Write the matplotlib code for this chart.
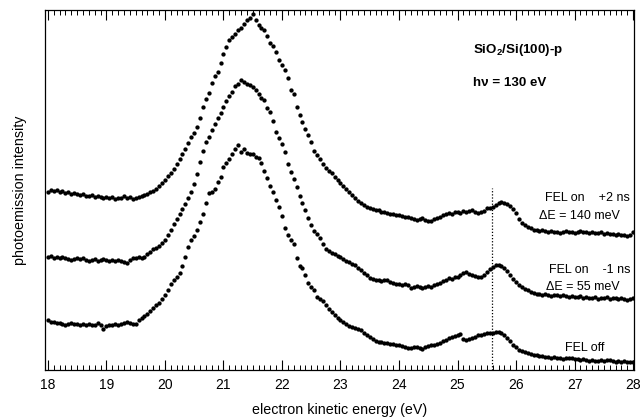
import numpy as np
import matplotlib
matplotlib.use("Agg")
import matplotlib.pyplot as plt
from matplotlib.ticker import MultipleLocator

plt.rcParams["font.family"] = ["Liberation Sans", "DejaVu Sans"]
plt.rcParams["mathtext.fontset"] = "custom"
plt.rcParams["mathtext.rm"] = "Liberation Sans"
plt.rcParams["mathtext.bf"] = "Liberation Sans:bold"

# =========================
# DATOS (intensidad en unidades arbitrarias)
# =========================
energia_ini = 18.0
paso = 0.05

fel_mas2ns = [
    178, 180, 179, 180, 178, 179, 177, 178, 176, 177, 176, 175, 176, 174, 174, 175, 173, 174, 173, 172,
    173, 172, 173, 171, 172, 172, 174, 172, 173, 171, 172, 173, 174, 175, 176, 178, 179, 181, 184, 187,
    190, 194, 197, 201, 206, 211, 216, 221, 227, 233, 237, 243, 252, 263, 271, 277, 287, 294, 298, 307,
    316, 323, 330, 333, 336, 340, 342, 346, 350, 352, 356, 350, 345, 342, 340, 334, 327, 324, 318, 310,
    305, 300, 292, 280, 276, 263, 255, 248, 241, 235, 228, 219, 215, 211, 206, 202, 199, 197, 193, 190,
    187, 184, 181, 178, 175, 172, 169, 167, 165, 163, 162, 161, 160, 160, 158, 158, 157, 156, 156, 155,
    155, 154, 153, 153, 152, 151, 150, 151, 152, 150, 149, 149, 151, 152, 153, 155, 156, 157, 156, 158,
    158, 157, 159, 158, 159, 160, 158, 157, 158, 159, 162, 162, 163, 165, 167, 168, 167, 166, 164, 161,
    157, 151, 147, 145, 143, 142, 140, 140, 139, 140, 139, 138, 139, 138, 138, 137, 138, 139, 138, 138,
    137, 138, 139, 138, 138, 137, 138, 137, 137, 138, 136, 137, 136, 136, 135, 136, 135, 135, 134, 135,
    138,
]

fel_menos1ns = [
    113, 114, 112, 113, 112, 113, 112, 111, 110, 111, 112, 111, 112, 110, 109, 110, 111, 109, 110, 111,
    110, 109, 110, 109, 110, 109, 108, 107, 110, 112, 112, 113, 112, 113, 116, 118, 121, 122, 124, 127,
    130, 135, 140, 146, 151, 156, 161, 166, 172, 178, 186, 196, 208, 219, 228, 233, 240, 246, 252, 257,
    263, 269, 274, 278, 284, 286, 290, 288, 286, 285, 283, 280, 276, 272, 270, 262, 258, 249, 238, 232,
    226, 218, 206, 198, 191, 183, 174, 167, 160, 152, 145, 139, 136, 132, 126, 121, 119, 117, 116, 114,
    113, 111, 109, 108, 106, 105, 102, 100, 97, 95, 92, 91, 90, 90, 89, 90, 90, 88, 87, 86,
    86, 85, 86, 85, 82, 83, 84, 83, 82, 83, 84, 83, 85, 86, 87, 89, 90, 92, 91, 93,
    93, 95, 97, 98, 96, 95, 94, 93, 93, 95, 98, 101, 103, 105, 105, 104, 102, 99, 95, 91,
    88, 85, 83, 81, 80, 78, 77, 76, 76, 75, 76, 75, 74, 75, 75, 74, 75, 74, 73, 74,
    73, 73, 74, 72, 73, 72, 72, 73, 71, 72, 72, 73, 71, 72, 72, 71, 72, 71, 70, 71,
    72,
]

fel_off = [
    50, 48, 48, 47, 47, 46, 45, 46, 47, 46, 46, 45, 46, 45, 46, 45, 45, 47, 45, 41,
    44, 45, 45, 46, 45, 46, 47, 48, 47, 46, 46, 50, 52, 54, 56, 59, 62, 65, 67, 71,
    75, 80, 86, 90, 93, 97, 104, 113, 123, 130, 134, 140, 148, 156, 167, 177, 178, 181, 188, 193,
    203, 207, 211, 216, 221, 225, 218, 221, 217, 216, 216, 213, 212, 207, 199, 192, 184, 178, 170, 163,
    154, 142, 135, 130, 126, 112, 104, 102, 95, 87, 83, 80, 73, 71, 69, 65, 61, 58, 55, 52,
    50, 48, 46, 44, 43, 42, 41, 40, 37, 35, 33, 31, 29, 28, 28, 27, 27, 26, 26, 25,
    25, 24, 23, 22, 22, 23, 23, 22, 21, 23, 24, 25, 25, 26, 27, 29, 30, 32, 33, 34,
    35, 36, 31, 30, 31, 32, 33, 35, 35, 36, 37, 37, 37, 38, 38, 37, 35, 32, 29, 25,
    23, 20, 19, 18, 17, 16, 15, 15, 14, 14, 13, 13, 12, 13, 12, 12, 11, 12, 12, 12,
    11, 11, 10, 11, 10, 9, 10, 9, 9, 10, 9, 10, 10, 9, 8, 9, 8, 9, 8, 8,
    8,
]

energia = energia_ini + paso * np.arange(len(fel_off))

# linea punteada vertical
e_linea = 25.59
y_linea_sup = 182

# =========================
# FIGURA
# =========================
fig = plt.figure(figsize=(6.42, 4.18), dpi=100)
ax = fig.add_axes([0.070, 0.115, 0.918, 0.861])

for serie in (fel_mas2ns, fel_menos1ns, fel_off):
    ax.plot(energia, serie, "o", color="black", markersize=3.1, markeredgewidth=0)

ax.plot([e_linea, e_linea], [0, y_linea_sup], color="black", linestyle=(0, (1, 1.5)), linewidth=0.9)

ax.set_xlim(17.95, 28.02)
ax.set_ylim(0, 360)
ax.xaxis.set_major_locator(MultipleLocator(1))
ax.xaxis.set_minor_locator(MultipleLocator(0.1))
ax.set_yticks([])
ax.tick_params(axis="x", which="both", direction="in", top=True, bottom=True, labelsize=10, pad=6)
ax.tick_params(axis="x", which="major", length=7, width=0.8)
ax.tick_params(axis="x", which="minor", length=3.5, width=0.7)
for lado in ax.spines.values():
    lado.set_linewidth(0.9)

ax.set_xlabel("electron kinetic energy (eV)", fontsize=10.3, labelpad=8)
ax.set_ylabel("photoemission intensity", fontsize=10.3, labelpad=13)

ax.text(0.726, 0.889, r"SiO$_\mathbf{2}$/Si(100)-p", transform=ax.transAxes,
        fontsize=9.6, fontweight="bold", ha="left", va="center")
ax.text(0.726, 0.797, "h\u03bd = 130 eV", transform=ax.transAxes,
        fontsize=9.6, fontweight="bold", ha="left", va="center")

ax.text(0.993, 0.478, "FEL on    +2 ns", transform=ax.transAxes, fontsize=9, ha="right", va="center")
ax.text(0.975, 0.428, "\u0394E = 140 meV", transform=ax.transAxes, fontsize=9, ha="right", va="center")
ax.text(0.993, 0.278, "FEL on    -1 ns", transform=ax.transAxes, fontsize=9, ha="right", va="center")
ax.text(0.975, 0.231, "\u0394E = 55 meV", transform=ax.transAxes, fontsize=9, ha="right", va="center")
ax.text(0.950, 0.061, "FEL off", transform=ax.transAxes, fontsize=9, ha="right", va="center")

fig.savefig("out.png", dpi=100)
